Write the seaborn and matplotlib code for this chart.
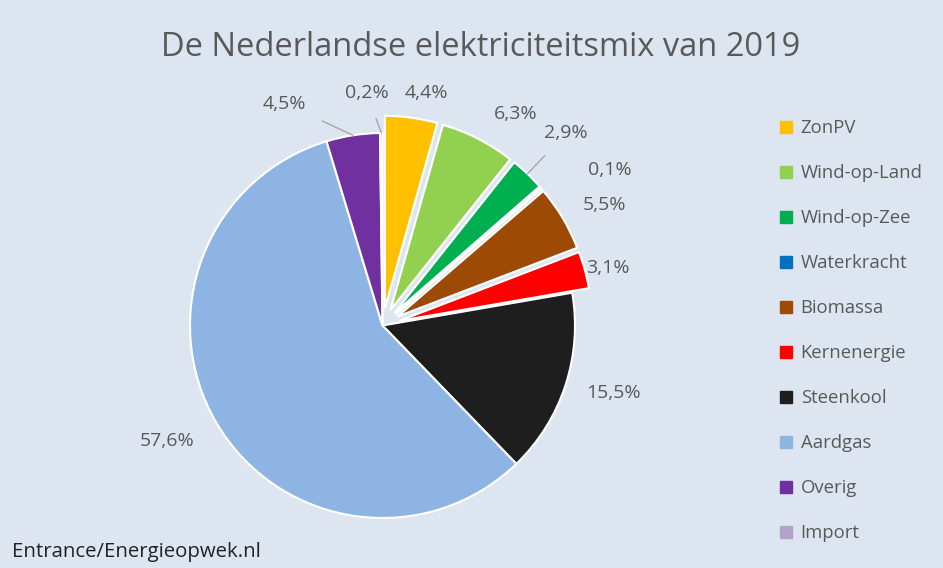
import matplotlib
matplotlib.use("Agg")
import matplotlib.pyplot as plt
import numpy as np
import seaborn as sns
from matplotlib.lines import Line2D

# ---- data ----
categories = ["ZonPV", "Wind-op-Land", "Wind-op-Zee", "Waterkracht", "Biomassa",
              "Kernenergie", "Steenkool", "Aardgas", "Overig", "Import"]
shares = [4.4, 6.3, 2.9, 0.1, 5.5, 3.1, 15.5, 57.6, 4.5, 0.2]
pct_labels = ["4,4%", "6,3%", "2,9%", "0,1%", "5,5%", "3,1%", "15,5%", "57,6%", "4,5%", "0,2%"]
title = "De Nederlandse elektriciteitsmix van 2019"
source = "Entrance/Energieopwek.nl"

# ---- style ----
colors = ["#FFC000", "#92D050", "#00B050", "#0070C0", "#9C4A06",
          "#FF0000", "#1E1E1E", "#8EB4E3", "#7030A0", "#B3A2C7"]
explode = [0.09, 0.09, 0.09, 0.09, 0.09, 0.09, 0.0, 0.0, 0.0, 0.0]
label_r = [1.23, 1.30, 1.38, 1.43, 1.31, 1.21, 1.25, 1.27, 1.26, 1.21]
label_dang = [-2.8, -5.1, 0.0, -6.4, -2.4, -1.1, 1.9, -2.3, 15.0, 3.5]
leader = [False, False, True, False, False, False, False, False, True, True]
bg = "#dde6f0"
txt = "#595959"
lab_fs = 14.0

sns.set_theme(style="white")
plt.rcParams["font.family"] = ["Open Sans", "DejaVu Sans"]

W, H = 943, 568
fig = plt.figure(figsize=(W / 100, H / 100), dpi=100, facecolor=bg)

cx, cy, R = 382.5, 325.5, 192.5
L = 1.45
S = 2 * L * R
ax = fig.add_axes([(cx - S / 2) / W, ((H - cy) - S / 2) / H, S / W, S / H])
ax.set_facecolor(bg)

wedges, _ = ax.pie(shares, colors=colors, explode=explode, startangle=90,
                   counterclock=False, radius=1.0,
                   wedgeprops=dict(edgecolor="white", linewidth=1.5))
ax.set_xlim(-L, L)
ax.set_ylim(-L, L)
ax.set_aspect("equal")
ax.axis("off")

for w, lab, r, da, ld in zip(wedges, pct_labels, label_r, label_dang, leader):
    mid = (w.theta1 + w.theta2) / 2
    a = np.deg2rad(mid + da)
    tx, ty = r * np.cos(a), r * np.sin(a)
    if ld:
        am = np.deg2rad(mid)
        ox, oy = w.center
        px, py = ox + 1.0 * np.cos(am), oy + 1.0 * np.sin(am)
        ax.annotate(lab, xy=(px, py), xytext=(tx, ty), ha="center", va="center",
                    fontsize=lab_fs, color=txt, annotation_clip=False,
                    arrowprops=dict(arrowstyle="-", color="#a6a6a6", lw=1.0,
                                    shrinkA=10, shrinkB=0))
    else:
        ax.text(tx, ty, lab, ha="center", va="center", fontsize=lab_fs, color=txt,
                clip_on=False)

fig.text(481 / W, 1 - 47 / H, title, ha="center", va="center", fontsize=23.5, color=txt)
fig.text(12 / W, 1 - 552 / H, source, ha="left", va="center", fontsize=14.7, color="#222222")

handles = [Line2D([0], [0], marker="s", linestyle="none", markersize=8,
                  markerfacecolor=c, markeredgecolor=c) for c in colors]
leg = fig.legend(handles, categories, loc="upper left",
                 bbox_to_anchor=(772 / W, 1 - 112 / H), frameon=False,
                 fontsize=13.3, labelcolor=txt, handlelength=0.7,
                 handletextpad=0.45, labelspacing=1.46, borderaxespad=0)

fig.savefig("out.png", dpi=100, facecolor=bg)
